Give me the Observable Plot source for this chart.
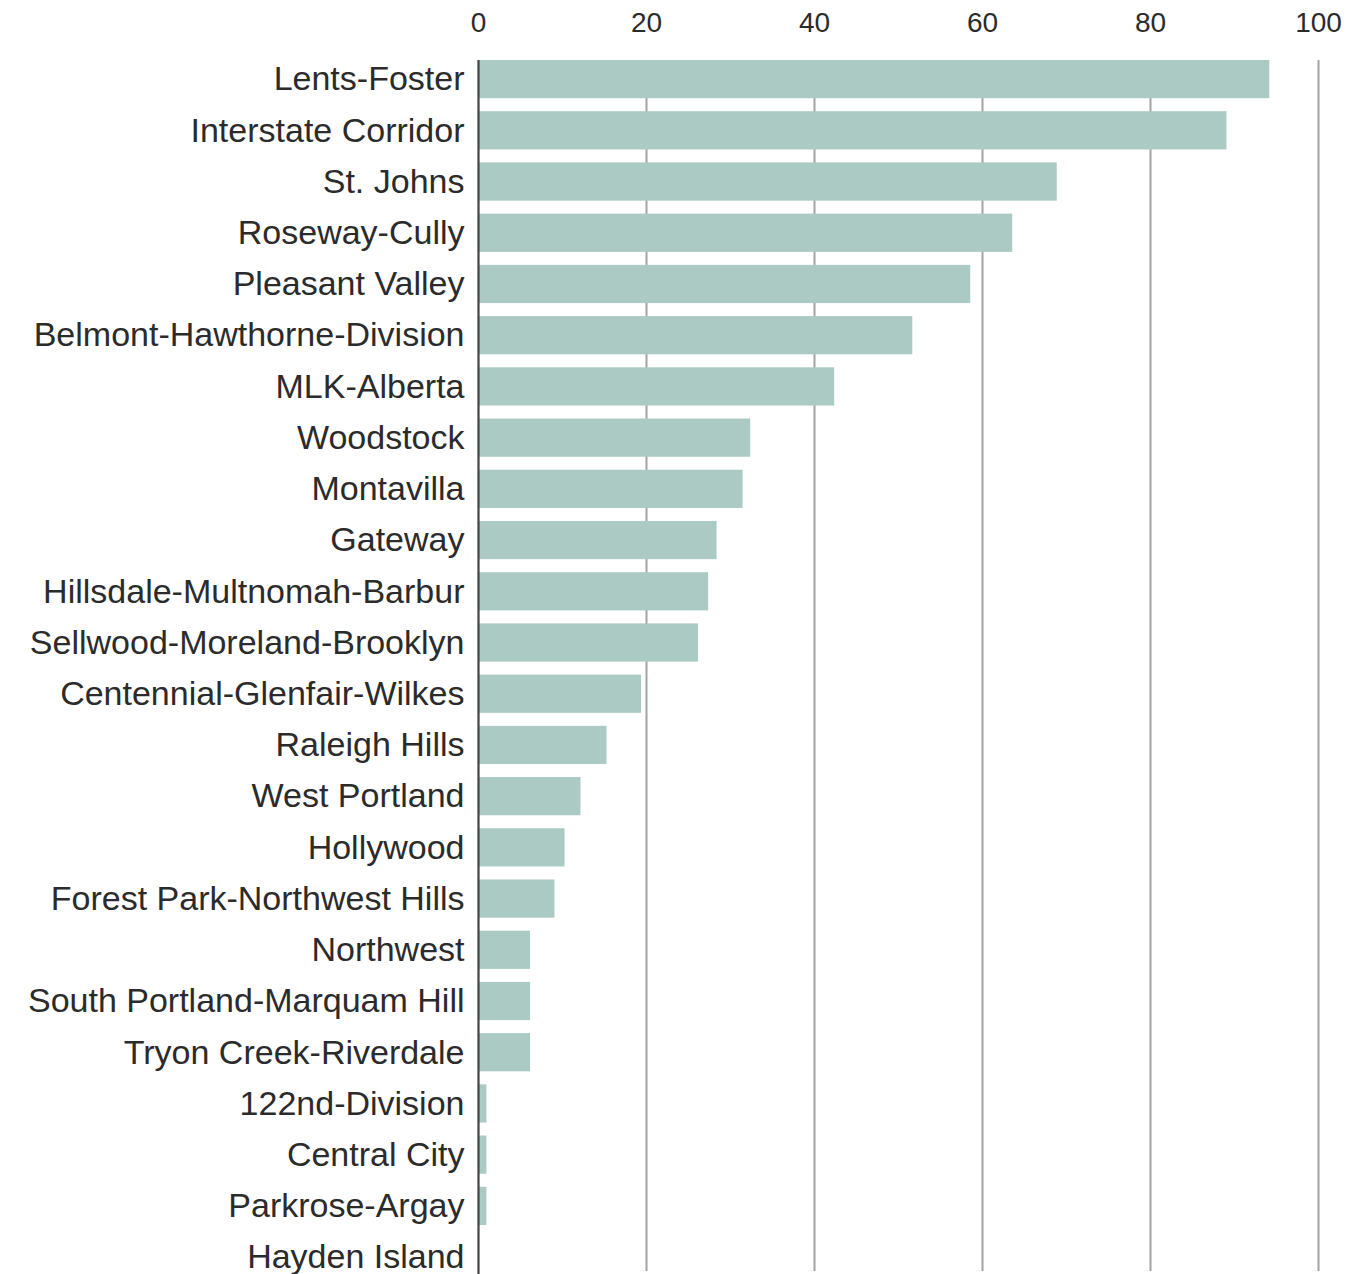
<!DOCTYPE html>
<html>
<head>
<meta charset="utf-8">
<script src="https://cdn.jsdelivr.net/npm/d3@7"></script>
<script src="https://cdn.jsdelivr.net/npm/@observablehq/plot@0.6"></script>
<style>
  html, body { margin: 0; padding: 0; background: #fff; overflow: hidden; }
  #chart svg { display: block; }
</style>
</head>
<body>
<div id="chart"></div>
<script>
const neighborhoods = [
  "Lents-Foster", "Interstate Corridor", "St. Johns", "Roseway-Cully", "Pleasant Valley",
  "Belmont-Hawthorne-Division", "MLK-Alberta", "Woodstock", "Montavilla", "Gateway",
  "Hillsdale-Multnomah-Barbur", "Sellwood-Moreland-Brooklyn", "Centennial-Glenfair-Wilkes",
  "Raleigh Hills", "West Portland", "Hollywood", "Forest Park-Northwest Hills", "Northwest",
  "South Portland-Marquam Hill", "Tryon Creek-Riverdale", "122nd-Division", "Central City",
  "Parkrose-Argay", "Hayden Island"
];
const values = [94.2, 89.1, 68.9, 63.6, 58.6, 51.7, 42.4, 32.4, 31.5, 28.4, 27.4, 26.2, 19.4,
  15.3, 12.2, 10.3, 9.1, 6.2, 6.2, 6.2, 1, 1, 1, 0];
const xTicks = [0, 20, 40, 60, 80, 100];
const gridTicks = [20, 40, 60, 80, 100];

const data = neighborhoods.map((name, i) => ({name, value: values[i]}));

const font = "'Liberation Sans', Arial, sans-serif";

const chart = Plot.plot({
  width: 1371,
  height: 1274,
  marginTop: 53.4,
  marginBottom: -8.6,
  marginLeft: 478,
  marginRight: 53,
  style: {fontFamily: font, color: "#2b2b2b", background: "#fff"},
  x: {domain: [0, 100], ticks: xTicks},
  y: {domain: neighborhoods, padding: 0, round: false},
  marks: [
    Plot.ruleX(gridTicks, {stroke: "#a3a3a3", strokeWidth: 2, insetTop: 6.6, insetBottom: 11.6}),
    Plot.barX(data, {x: "value", y: "name", fill: "#abcac4", insetTop: 6.6, insetBottom: 6.4}),
    Plot.ruleX([0], {stroke: "#444", strokeWidth: 2.2, insetTop: 6.6, insetBottom: 8.6}),
    Plot.axisX({anchor: "top", ticks: xTicks, tickSize: 0, tickPadding: 22, fontSize: 28, label: null}),
    Plot.axisY({anchor: "left", tickSize: 0, tickPadding: 14, fontSize: 34, label: null})
  ]
});
document.getElementById("chart").appendChild(chart);
</script>
</body>
</html>
